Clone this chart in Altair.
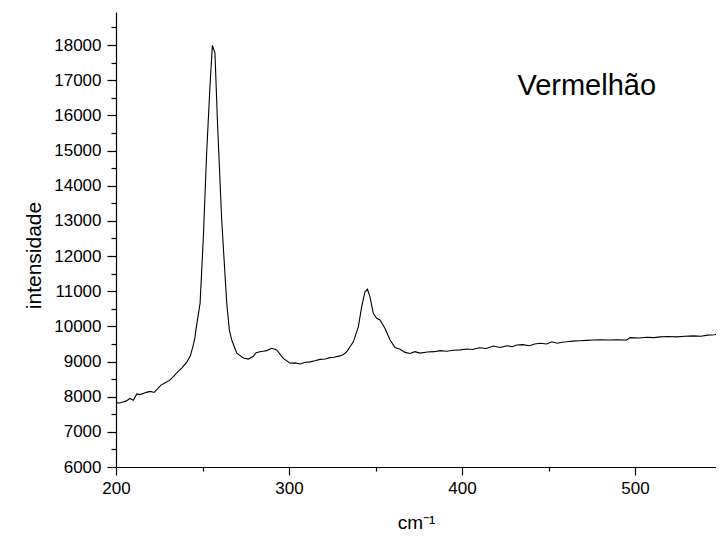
import altair as alt
import pandas as pd

wavenumber = [200.0, 202, 204, 206, 208, 210, 212, 214, 216, 218, 220, 222, 224, 226, 228, 231, 233, 235, 238, 241,
              243, 244.7, 245.7, 246.2, 248.6, 250.5, 252.4, 254.3, 255.7, 257.2, 258.6, 261.1, 264.0, 265.5, 266.9,
              269.8, 273.6, 276.5, 279.2, 281, 283.2, 285, 287.1, 290.0, 292.9, 296.7, 300.6, 303.5, 306.4, 309,
              312.1, 315, 317.9, 321, 323.7, 326, 329.5, 331.5, 333.4, 337.2, 340.1, 342.0, 343.9, 345.3, 346.8,
              348.7, 350.7, 352.6, 355.5, 358.4, 361.3, 364.2, 367.1, 369.9, 372.8, 375.7, 380, 384, 387.3, 391,
              395, 399, 402.7, 406, 410, 414, 418.1, 422, 426, 429, 431.6, 435, 439, 442, 445.1, 449, 452, 455,
              458, 460.5, 464, 468, 472, 475.9, 480, 485, 490, 495.2, 497.1, 502, 507, 511, 514.5, 519, 524, 529,
              533.7, 538, 542, 546, 549, 551]
intensity = [7830, 7820, 7850, 7880, 7950, 7900, 8080, 8060, 8100, 8130, 8150, 8120, 8220, 8330, 8380, 8470, 8560,
             8670, 8815, 8990, 9160, 9470, 9700, 9900, 10660, 12550, 14930, 16810, 17990, 17770, 15870, 13020,
             10660, 9900, 9610, 9240, 9100, 9070, 9140, 9250, 9280, 9290, 9310, 9375, 9330, 9090, 8950, 8960, 8930,
             8970, 8990, 9020, 9060, 9070, 9110, 9120, 9160, 9200, 9280, 9560, 9990, 10560, 10980, 11060, 10840,
             10370, 10230, 10180, 9940, 9610, 9400, 9350, 9260, 9230, 9280, 9240, 9270, 9280, 9310, 9290, 9320,
             9330, 9355, 9340, 9390, 9370, 9440, 9400, 9450, 9420, 9470, 9480, 9450, 9500, 9520, 9500, 9560, 9520,
             9550, 9560, 9580, 9590, 9600, 9610, 9620, 9610, 9615, 9610, 9680, 9670, 9690, 9680, 9700, 9710, 9700,
             9720, 9730, 9720, 9750, 9760, 9800, 9790]

x_major = [200, 300, 400, 500]
x_minor = [250, 350, 450]
y_major = list(range(6000, 18001, 1000))
y_minor = list(range(6500, 18501, 1000))
label_text = ["Vermelhão"]
label_x = [432]
label_y = [16830]

df = pd.DataFrame({"x": wavenumber, "y": intensity})
lab = pd.DataFrame({"x": label_x, "y": label_y, "t": label_text})

FONT = "Liberation Sans"

xscale = alt.Scale(domain=[200, 546.8], nice=False, zero=False)
yscale = alt.Scale(domain=[6000, 18940], nice=False, zero=False)

common = dict(grid=False, domainColor="black", tickColor="black", domainWidth=1.2, tickWidth=1.2,
              labelFont=FONT, labelColor="black", labelFontSize=17, labelOverlap=False, labelFlush=False)

xaxis = alt.Axis(
    values=x_major, title="cm⁻¹", orient="bottom", tickSize=8, labelPadding=5,
    titleFont=FONT, titleFontSize=19, titleFontWeight="normal", titleColor="black", titlePadding=17,
    **common,
)
yaxis = alt.Axis(
    values=y_major, title="intensidade", orient="left", tickSize=9, labelPadding=6, format="d",
    titleFont=FONT, titleFontSize=21, titleFontWeight="normal", titleColor="black", titlePadding=9,
    titleY=243,
    **common,
)
xaxis_minor = alt.Axis(values=x_minor, title=None, orient="bottom", tickSize=4, labels=False, domain=False,
                       grid=False, tickColor="black", tickWidth=1.2)
yaxis_minor = alt.Axis(values=y_minor, title=None, orient="left", tickSize=5, labels=False, domain=False,
                       grid=False, tickColor="black", tickWidth=1.2)

line = alt.Chart(df).mark_line(color="black", strokeWidth=1.1, clip=True).encode(
    x=alt.X("x:Q", scale=xscale, axis=xaxis),
    y=alt.Y("y:Q", scale=yscale, axis=yaxis),
)

text = alt.Chart(lab).mark_text(align="left", baseline="middle", fontSize=29, font=FONT, color="black").encode(
    x=alt.X("x:Q", scale=xscale, axis=xaxis_minor),
    y=alt.Y("y:Q", scale=yscale, axis=yaxis_minor),
    text="t:N",
)

chart = (line + text).resolve_axis(x="independent", y="independent").properties(
    width=600, height=455,
    autosize=alt.AutoSizeParams(type="none"),
    padding={"left": 108, "top": 4, "right": 0, "bottom": 70},
    background="white",
).configure_view(stroke=None)

chart.save("out.html", embed_options={"renderer": "svg", "actions": False})
